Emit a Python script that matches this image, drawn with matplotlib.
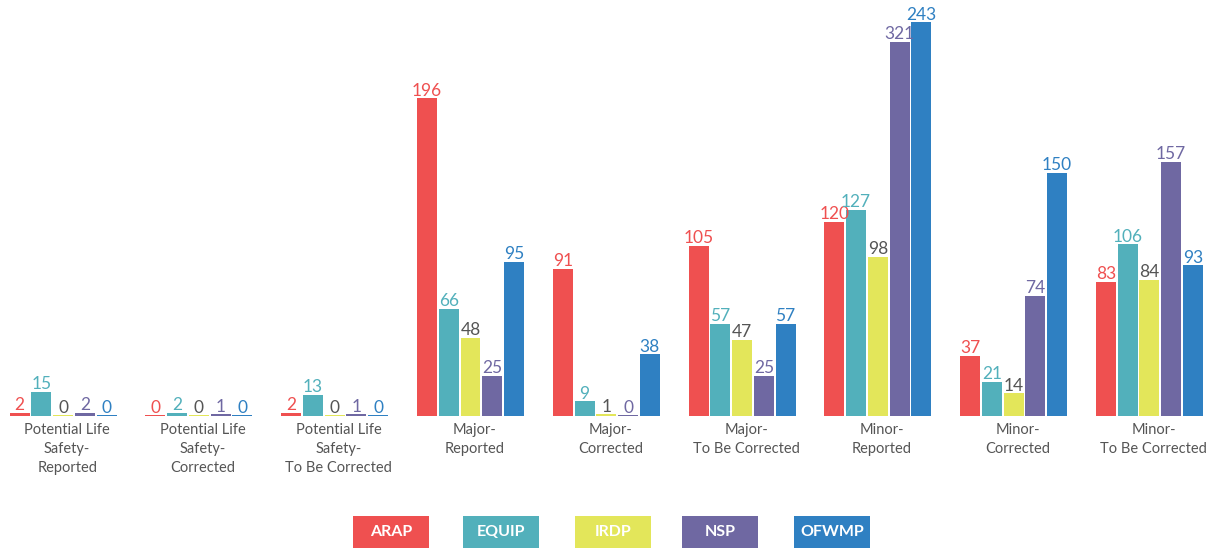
import matplotlib
matplotlib.use("Agg")
from matplotlib import pyplot as plt
from matplotlib.patches import Rectangle
from matplotlib.transforms import ScaledTranslation
import numpy as np

plt.rcParams['font.family'] = ['Lato', 'DejaVu Sans']

# data
categories = ["Potential Life\nSafety-\nReported", "Potential Life\nSafety-\nCorrected",
              "Potential Life\nSafety-\nTo Be Corrected", "Major-\nReported", "Major-\nCorrected",
              "Major-\nTo Be Corrected", "Minor-\nReported", "Minor-\nCorrected",
              "Minor-\nTo Be Corrected"]
series = ["ARAP", "EQUIP", "IRDP", "NSP", "OFWMP"]
arap = [2, 0, 2, 196, 91, 105, 120, 37, 83]
equip = [15, 2, 13, 66, 9, 57, 127, 21, 106]
irdp = [0, 0, 0, 48, 1, 47, 98, 14, 84]
nsp = [2, 1, 1, 25, 0, 25, 231, 74, 157]   # bar drawn at ~231 in the source
ofwmp = [0, 0, 0, 95, 38, 57, 243, 150, 93]
# the source labels that one bar "321"
label_fix = {(3, 6): "321"}

colors = ["#EF5050", "#52B0BB", "#E3E65A", "#6F68A2", "#2F80C2"]
text_colors = ["#EF5050", "#52B0BB", "#555555", "#6F68A2", "#2F80C2"]

values = [arap, equip, irdp, nsp, ofwmp]

fig = plt.figure(figsize=(12.21, 5.49), dpi=100)
ax = fig.add_axes([0, 133 / 549, 1, 416 / 549])

x = np.arange(len(categories))
pitch = 0.160
width = 0.147
for i, (name, vals) in enumerate(zip(series, values)):
    pos = x + (i - 2) * pitch
    heights = [max(v, 0.7) for v in vals]
    ax.bar(pos, heights, width, color=colors[i], linewidth=0)
    for j, (p, v) in enumerate(zip(pos, vals)):
        txt = label_fix.get((i, j), str(v))
        ax.annotate(txt, (p, v), xytext=(0, 2), textcoords="offset points",
                    ha="center", va="baseline", fontsize=12.5, color=text_colors[i])

ax.set_xlim(-0.465, 8.527)
ax.set_ylim(0, 416 / 1.62)
ax.set_xticks(x)
ax.set_xticklabels(categories, fontsize=10.5, color="#555555", linespacing=1.45)
ax.tick_params(axis="x", length=0, pad=5)
shift = ScaledTranslation(4 / 100, 0, fig.dpi_scale_trans)
for lbl in ax.get_xticklabels():
    lbl.set_transform(lbl.get_transform() + shift)
ax.set_yticks([])
for s in ax.spines.values():
    s.set_visible(False)

# legend boxes
centers = [391, 501, 613, 720, 832]
for name, c, cx in zip(series, colors, centers):
    fig.patches.append(Rectangle(((cx - 38) / 1221, (549 - 548) / 549), 76 / 1221, 32 / 549,
                                 transform=fig.transFigure, color=c, linewidth=0))
    fig.text(cx / 1221, (549 - 532) / 549, name, ha="center", va="center",
             color="white", fontsize=11.5, fontweight="bold")

plt.savefig("out.png", dpi=100)
